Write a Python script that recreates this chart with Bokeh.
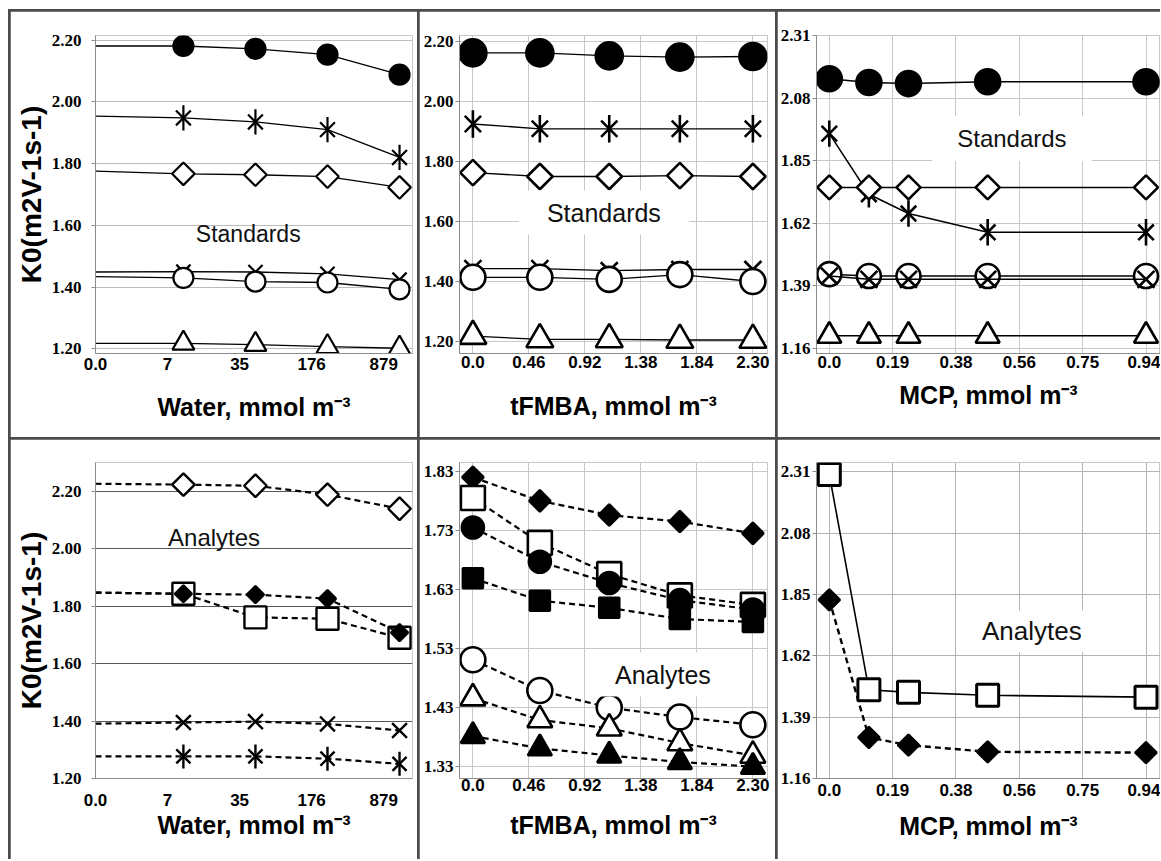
import math
from bokeh.plotting import figure
from bokeh.layouts import gridplot
from bokeh.models import FixedTicker, Label, NumeralTickFormatter
from bokeh.embed import file_html
from bokeh.resources import INLINE

# ---------------- data ----------------
water_labels = ["0.0", "7", "35", "176", "879"]
tfmba_conc = [0.0, 0.55, 1.12, 1.70, 2.30]
tfmba_tick_vals = [0.0, 0.46, 0.92, 1.38, 1.84, 2.30]
tfmba_tick_labels = ["0.0", "0.46", "0.92", "1.38", "1.84", "2.30"]
mcp_conc = [0.0, 0.1175, 0.235, 0.47, 0.94]
mcp_tick_vals = [0.0, 0.188, 0.376, 0.564, 0.752, 0.94]
mcp_tick_labels = ["0.0", "0.19", "0.38", "0.56", "0.75", "0.94"]

k0_ticks_water = [1.20, 1.40, 1.60, 1.80, 2.00, 2.20]
k0_ticks_tfmba_std = [1.20, 1.40, 1.60, 1.80, 2.00, 2.20]
k0_ticks_mcp = [1.16, 1.39, 1.62, 1.85, 2.08, 2.31]
k0_ticks_tfmba_an = [1.33, 1.43, 1.53, 1.63, 1.73, 1.83]

# Standards vs water
sw_fcircle = [2.181, 2.181, 2.172, 2.153, 2.088]
sw_aster = [1.954, 1.948, 1.935, 1.910, 1.820]
sw_odiam = [1.776, 1.767, 1.764, 1.758, 1.723]
sw_x = [1.449, 1.450, 1.449, 1.443, 1.424]
sw_ocircle = [1.434, 1.430, 1.418, 1.415, 1.393]
sw_otri = [1.218, 1.218, 1.214, 1.207, 1.202]

# Standards vs tFMBA
st_fcircle = [2.162, 2.162, 2.152, 2.148, 2.150]
st_aster = [1.925, 1.909, 1.909, 1.909, 1.909]
st_odiam = [1.763, 1.750, 1.750, 1.753, 1.750]
st_x = [1.443, 1.443, 1.436, 1.440, 1.440]
st_ocircle = [1.414, 1.414, 1.407, 1.423, 1.400]
st_otri = [1.218, 1.207, 1.207, 1.205, 1.205]

# Standards vs MCP
sm_fcircle = [2.151, 2.137, 2.133, 2.140, 2.140]
sm_aster = [1.949, 1.726, 1.655, 1.586, 1.586]
sm_odiam = [1.751, 1.751, 1.751, 1.751, 1.751]
sm_ocircle = [1.432, 1.425, 1.425, 1.425, 1.425]
sm_x = [1.425, 1.413, 1.413, 1.413, 1.413]
sm_otri = [1.205, 1.205, 1.205, 1.205, 1.205]

# Analytes vs water
aw_odiam = [2.226, 2.223, 2.219, 2.188, 2.139]
aw_osquare = [1.847, 1.843, 1.761, 1.756, 1.690]
aw_fdiam = [1.847, 1.843, 1.840, 1.826, 1.708]
aw_x = [1.391, 1.395, 1.398, 1.390, 1.367]
aw_aster = [1.277, 1.277, 1.277, 1.269, 1.251]

# Analytes vs tFMBA
at_fdiam = [1.820, 1.780, 1.756, 1.745, 1.725]
at_osquare = [1.785, 1.709, 1.656, 1.620, 1.604]
at_fcircle = [1.735, 1.677, 1.641, 1.612, 1.596]
at_fsquare = [1.649, 1.611, 1.599, 1.580, 1.575]
at_ocircle = [1.511, 1.459, 1.430, 1.414, 1.401]
at_otri = [1.446, 1.409, 1.395, 1.370, 1.349]
at_ftri = [1.382, 1.361, 1.349, 1.338, 1.330]

# Analytes vs MCP
am_osquare = [2.300, 1.493, 1.483, 1.472, 1.465]
am_fdiam = [1.830, 1.314, 1.285, 1.260, 1.257]

# ---------------- layout helpers ----------------
WATER_SHIFT = 0.22
water_x = [0.0] + [i + WATER_SHIFT for i in range(1, len(water_labels))]
water_ticks = list(range(len(water_labels)))

YLABEL = "K0(m2V-1s-1)"
DASH = "6 4"


def panel(w, h, l, r, t, b, xr, yr, xticks, xlabels, yticks, xlabel,
          tick_standoff, label_standoff, ylabel=None, vgrid=True,
          grid_color="#c8c8c8", ytick_standoff=2):
    p = figure(width=w, height=h, x_range=xr, y_range=yr,
               output_backend="svg", toolbar_location=None,
               min_border_left=l, min_border_right=r,
               min_border_top=t, min_border_bottom=b)
    p.title = None
    p.background_fill_color = "white"
    p.border_fill_color = "white"
    p.outline_line_color = "#c8c8c8"
    p.outline_line_width = 1

    p.xaxis.ticker = FixedTicker(ticks=xticks)
    p.xaxis.major_label_overrides = {v: s for v, s in zip(xticks, xlabels)}
    p.xaxis.major_label_text_font = "Liberation Sans"
    p.xaxis.major_label_text_font_style = "bold"
    p.xaxis.major_label_text_font_size = "17px"
    p.xaxis.major_label_text_color = "black"
    p.xaxis.major_tick_out = 0
    p.xaxis.major_tick_in = 0
    p.xaxis.minor_tick_out = 0
    p.xaxis.minor_tick_in = 0
    p.xaxis.major_label_standoff = tick_standoff
    p.xaxis.axis_line_color = "#8c8c8c"
    p.xaxis.axis_label = xlabel
    p.xaxis.axis_label_text_font = "Liberation Sans"
    p.xaxis.axis_label_text_font_style = "bold"
    p.xaxis.axis_label_text_font_size = "25px"
    p.xaxis.axis_label_text_color = "black"
    p.xaxis.axis_label_standoff = label_standoff

    p.yaxis.ticker = FixedTicker(ticks=yticks)
    p.yaxis.formatter = NumeralTickFormatter(format="0.00")
    p.yaxis.major_label_text_font = "Liberation Serif"
    p.yaxis.major_label_text_font_style = "bold"
    p.yaxis.major_label_text_font_size = "17px"
    p.yaxis.major_label_text_color = "black"
    p.yaxis.major_tick_out = 4
    p.yaxis.major_tick_in = 0
    p.yaxis.minor_tick_out = 0
    p.yaxis.minor_tick_in = 0
    p.yaxis.major_tick_line_color = "#8c8c8c"
    p.yaxis.major_label_standoff = ytick_standoff
    p.yaxis.axis_line_color = "#8c8c8c"
    if ylabel:
        p.yaxis.axis_label = ylabel
        p.yaxis.axis_label_text_font = "Liberation Sans"
        p.yaxis.axis_label_text_font_style = "bold"
        p.yaxis.axis_label_text_font_size = "28px"
        p.yaxis.axis_label_text_color = "black"
        p.yaxis.axis_label_standoff = 2

    p.ygrid.grid_line_color = grid_color
    p.ygrid.grid_line_width = 1
    if vgrid:
        p.xgrid.grid_line_color = grid_color
        p.xgrid.grid_line_width = 1
    else:
        p.xgrid.grid_line_color = None
    return p


def series(p, x, y, kind, size, dash="solid", lw=1.3, mlw=2.2, skip_first=False):
    p.line(x, y, line_color="black", line_width=lw, line_dash=dash)
    mx, my = (x[1:], y[1:]) if skip_first else (x, y)
    kw = dict(line_color="black", line_width=mlw)
    if kind == "fcircle":
        p.scatter(mx, my, marker="circle", size=size, fill_color="black", **kw)
    elif kind == "ocircle":
        p.scatter(mx, my, marker="circle", size=size, fill_color="white", **kw)
    elif kind == "fdiam":
        p.scatter(mx, my, marker="square", angle=math.pi / 4, size=size,
                  fill_color="black", **kw)
    elif kind == "odiam":
        p.scatter(mx, my, marker="square", angle=math.pi / 4, size=size,
                  fill_color="white", **kw)
    elif kind == "osquare":
        p.scatter(mx, my, marker="square", size=size, fill_color="white", **kw)
    elif kind == "fsquare":
        p.scatter(mx, my, marker="square", size=size, fill_color="black", **kw)
    elif kind == "otri":
        p.scatter(mx, my, marker="triangle", size=size, fill_color="white", **kw)
    elif kind == "ftri":
        p.scatter(mx, my, marker="triangle", size=size, fill_color="black", **kw)
    elif kind == "x":
        p.scatter(mx, my, marker="x", size=size, **kw)
    elif kind == "aster":
        p.scatter(mx, my, marker="x", size=size, **kw)
        p.scatter(mx, my, marker="dash", angle=math.pi / 2, size=size * 1.2, **kw)


def tag(p, x, y, text, size, box=None):
    kw = {}
    if box is not None:
        kw = dict(background_fill_color="white", padding=dict(x=box[0], y=box[1]))
    p.add_layout(Label(x=x, y=y, text=text, text_font="Liberation Sans",
                       text_font_size=size, text_align="center",
                       text_baseline="middle", text_color="#111111", **kw))


W1, W2, W3 = 407, 356, 383
H1, H2 = 426, 420
MCP_XR = (-0.038, 0.983)

# ---- Top-left: standards vs water ----
p1 = panel(W1, H1, 85, 5, 10, 84, (0, 4.4), (1.185, 2.215), water_ticks, water_labels,
           k0_ticks_water, "Water, mmol m\u207b\u00b3", 4, 20, ylabel=YLABEL,
           vgrid=False, grid_color="#bdbdbd", ytick_standoff=10)
for ys, kind, sz in [(sw_fcircle, "fcircle", 20), (sw_aster, "aster", 21),
                     (sw_odiam, "odiam", 16), (sw_x, "x", 20),
                     (sw_ocircle, "ocircle", 20), (sw_otri, "otri", 22)]:
    series(p1, water_x, ys, kind, sz, skip_first=True)
tag(p1, 2.12, 1.573, "Standards", "23px")

# ---- Top-middle: standards vs tFMBA ----
p2 = panel(W2, H1, 40, 8, 16, 82, (-0.11, 2.42), (1.16, 2.22), tfmba_tick_vals,
           tfmba_tick_labels, k0_ticks_tfmba_std, "tFMBA, mmol m\u207b\u00b3", 2, 21)
for ys, kind, sz in [(st_fcircle, "fcircle", 27), (st_aster, "aster", 23),
                     (st_odiam, "odiam", 18), (st_x, "x", 24),
                     (st_ocircle, "ocircle", 25), (st_otri, "otri", 27)]:
    series(p2, tfmba_conc, ys, kind, sz, mlw=2.6)
tag(p2, 1.076, 1.630, "Standards", "25px", box=(28, 8))

# ---- Top-right: standards vs MCP ----
p3 = panel(W3, H1, 38, 0, 24, 71, MCP_XR, (1.14, 2.31), mcp_tick_vals,
           mcp_tick_labels, k0_ticks_mcp, "MCP, mmol m\u207b\u00b3", 2, 10)
for ys, kind, sz in [(sm_fcircle, "fcircle", 25), (sm_aster, "aster", 22),
                     (sm_odiam, "odiam", 17), (sm_ocircle, "ocircle", 24),
                     (sm_x, "x", 24), (sm_otri, "otri", 24)]:
    series(p3, mcp_conc, ys, kind, sz, lw=1.5, mlw=2.6)
tag(p3, 0.542, 1.931, "Standards", "24px", box=(25, 9))

# ---- Bottom-left: analytes vs water ----
p4 = panel(W1, H2, 82, 5, 23, 81, (0, 4.4), (1.2, 2.3), water_ticks, water_labels,
           k0_ticks_water, "Water, mmol m\u207b\u00b3", 15, 2, ylabel=YLABEL,
           vgrid=False, grid_color="#5a5a5a", ytick_standoff=10)
for ys, kind, sz in [(aw_odiam, "odiam", 16), (aw_osquare, "osquare", 22),
                     (aw_fdiam, "fdiam", 12), (aw_x, "x", 21), (aw_aster, "aster", 20)]:
    series(p4, water_x, ys, kind, sz, dash=DASH, lw=2.2, mlw=2.4, skip_first=True)
tag(p4, 1.646, 2.038, "Analytes", "24px")

# ---- Bottom-middle: analytes vs tFMBA ----
p5 = panel(W2, H2, 40, 8, 14, 74, (-0.11, 2.42), (1.31, 1.845), tfmba_tick_vals,
           tfmba_tick_labels, k0_ticks_tfmba_an, "tFMBA, mmol m\u207b\u00b3", 0, 17)
for ys, kind, sz in [(at_fdiam, "fdiam", 15), (at_osquare, "osquare", 24),
                     (at_fcircle, "fcircle", 22), (at_fsquare, "fsquare", 20),
                     (at_ocircle, "ocircle", 25), (at_otri, "otri", 25),
                     (at_ftri, "ftri", 24)]:
    series(p5, tfmba_conc, ys, kind, sz, dash=DASH, lw=2.2, mlw=2.6)
tag(p5, 1.561, 1.486, "Analytes", "25px", box=(16, 8))

# ---- Bottom-right: analytes vs MCP ----
p6 = panel(W3, H2, 38, 0, 10, 79, MCP_XR, (1.16, 2.345), mcp_tick_vals,
           mcp_tick_labels, k0_ticks_mcp, "MCP, mmol m\u207b\u00b3", 5, 13,
           grid_color="#b4b4b4")
series(p6, mcp_conc, am_osquare, "osquare", 22, lw=1.6, mlw=3)
series(p6, mcp_conc, am_fdiam, "fdiam", 15, dash=DASH, lw=2.4, mlw=2.4)
tag(p6, 0.601, 1.712, "Analytes", "26px", box=(16, 6))

grid = gridplot([[p1, p2, p3], [p4, p5, p6]], toolbar_location=None)
grid.spacing = 2
grid.styles = {"background-color": "#4a4a4a", "padding-top": "2px",
               "padding-left": "2px", "margin-top": "9px", "margin-left": "8px"}

open("out.html", "w").write(file_html(grid, INLINE))
